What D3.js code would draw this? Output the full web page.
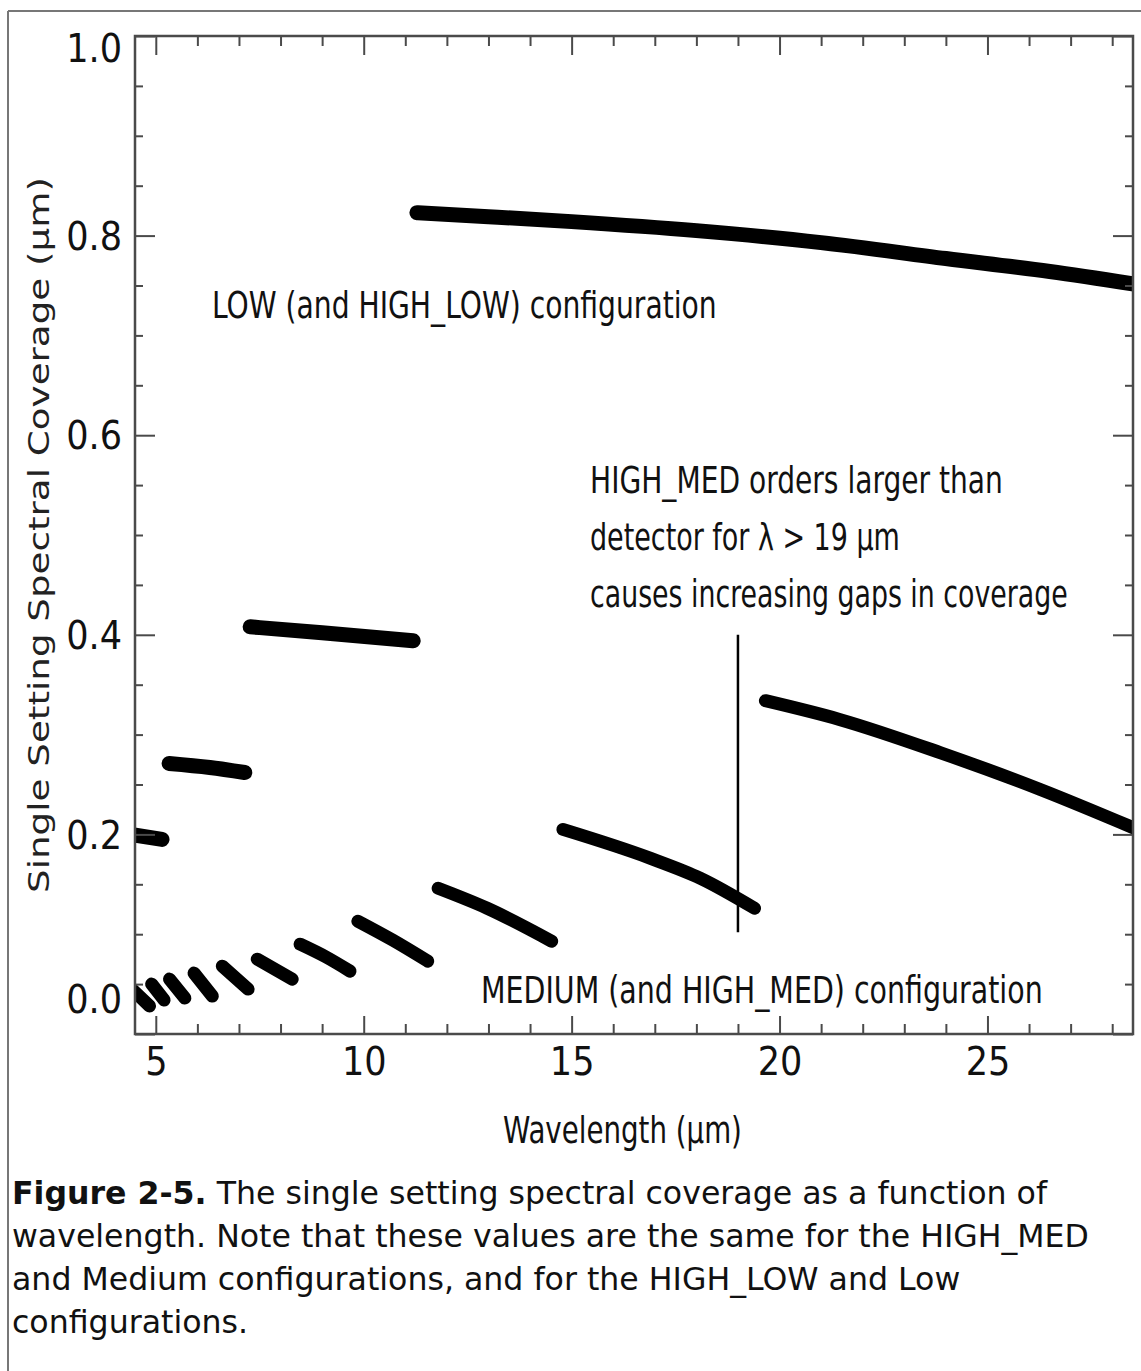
<!DOCTYPE html>
<html>
<head>
<meta charset="utf-8">
<script src="https://cdn.jsdelivr.net/npm/d3@7"></script>
<style>
  html, body { margin: 0; padding: 0; background: #fff; }
  svg { display: block; }
</style>
</head>
<body>
<svg id="chart" width="1141" height="1371"></svg>
<script>
// ---------------- DATA ----------------
// LOW (and HIGH_LOW) configuration: [wavelength µm, coverage µm]
const lowOrder1 = [[4.40, 0.200], [5.15, 0.195]];
const lowOrder2 = [[5.32, 0.271], [6.3, 0.267], [7.14, 0.262]];
const lowOrder3 = [[7.27, 0.408], [9.0, 0.402], [11.19, 0.394]];
const lowOrder4 = [[11.28, 0.823], [13.0, 0.819], [15.0, 0.814], [18.0, 0.805], [21.0, 0.793], [24.0, 0.777], [26.5, 0.764], [28.6, 0.751]];
const lowSegments = [lowOrder1, lowOrder2, lowOrder3, lowOrder4];

// MEDIUM (and HIGH_MED) configuration
const medOrder1  = [[4.40, 0.046], [4.85, 0.028]];
const medOrder2  = [[4.90, 0.050], [5.20, 0.034]];
const medOrder3  = [[5.33, 0.055], [5.70, 0.036]];
const medOrder4  = [[5.92, 0.061], [6.36, 0.038]];
const medOrder5  = [[6.60, 0.068], [7.22, 0.045]];
const medOrder6  = [[7.44, 0.075], [8.28, 0.055]];
const medOrder7  = [[8.47, 0.090], [9.10, 0.077], [9.67, 0.063]];
const medOrder8  = [[9.86, 0.113], [10.7, 0.094], [11.54, 0.073]];
const medOrder9  = [[11.79, 0.146], [12.97, 0.126], [14.52, 0.093]];
const medOrder10 = [[14.79, 0.205], [16.9, 0.176], [18.1, 0.156], [19.40, 0.126]];
const medOrder11 = [[19.66, 0.334], [21.46, 0.315], [23.86, 0.282], [26.27, 0.245], [28.6, 0.205]];
const medSegments = [medOrder1, medOrder2, medOrder3, medOrder4, medOrder5, medOrder6,
                     medOrder7, medOrder8, medOrder9, medOrder10, medOrder11];

// annotation marker (λ = 19 µm)
const markerLine = [[19.0, 0.102], [19.0, 0.400]];

// axes
const xDomain = [4.5, 28.5];
const yDomain = [0, 1];
const xMajorTicks = [5, 10, 15, 20, 25];
const xMinorTicks = [6, 7, 8, 9, 11, 12, 13, 14, 16, 17, 18, 19, 21, 22, 23, 24, 26, 27, 28];
const yMajorTicks = [0.0, 0.2, 0.4, 0.6, 0.8, 1.0];
const yMinorTicks = [0.05, 0.1, 0.15, 0.25, 0.3, 0.35, 0.45, 0.5, 0.55, 0.65, 0.7, 0.75, 0.85, 0.9, 0.95];

// texts
const xTitle = "Wavelength (µm)";
const yTitle = "Single Setting Spectral Coverage (µm)";
const lowLabel = "LOW (and HIGH_LOW) configuration";
const medLabel = "MEDIUM (and HIGH_MED) configuration";
const noteLines = ["HIGH_MED orders larger than", "detector for λ > 19 µm", "causes increasing gaps in coverage"];
const captionBold = "Figure 2-5.";
const captionLines = [
  " The single setting spectral coverage as a function of",
  "wavelength. Note that these values are the same for the HIGH_MED",
  "and Medium configurations, and for the HIGH_LOW and Low",
  "configurations."
];

// ---------------- DRAW ----------------
const svg = d3.select("#chart");
const narrow = "'Liberation Sans Narrow', 'Arial Narrow', 'DejaVu Sans Condensed', sans-serif";
const axisCol = "#4a4a4a";

// page frame (top + left grey rule)
svg.append("line").attr("x1", 8).attr("x2", 1141).attr("y1", 11).attr("y2", 11)
  .attr("stroke", "#777").attr("stroke-width", 2);
svg.append("line").attr("x1", 8).attr("x2", 8).attr("y1", 11).attr("y2", 1371)
  .attr("stroke", "#777").attr("stroke-width", 2);

const L = 135, R = 1133, T = 36, B = 1034;
const x = d3.scaleLinear().domain(xDomain).range([L, R]);
const y = d3.scaleLinear().domain(yDomain).range([B, T]);

svg.append("defs").append("clipPath").attr("id", "plotclip")
  .append("rect").attr("x", L).attr("y", T).attr("width", R - L).attr("height", B - T);

const line = d3.line().x(d => x(d[0])).y(d => y(d[1])).curve(d3.curveMonotoneX);

const plot = svg.append("g").attr("clip-path", "url(#plotclip)");

plot.selectAll("path.low").data(lowSegments).join("path")
  .attr("class", "low")
  .attr("d", line)
  .attr("fill", "none").attr("stroke", "#000")
  .attr("stroke-width", 15).attr("stroke-linecap", "round").attr("stroke-linejoin", "round");

plot.selectAll("path.med").data(medSegments).join("path")
  .attr("class", "med")
  .attr("d", line)
  .attr("fill", "none").attr("stroke", "#000")
  .attr("stroke-width", 13).attr("stroke-linecap", "round").attr("stroke-linejoin", "round");

svg.append("path").datum(markerLine)
  .attr("d", d3.line().x(d => x(d[0])).y(d => y(d[1])))
  .attr("stroke", "#000").attr("stroke-width", 2.5).attr("fill", "none");

// axes
function styleAxis(g) {
  g.select(".domain").remove();
  g.selectAll(".tick line").attr("stroke", axisCol).attr("stroke-width", 2);
  g.selectAll(".tick text").attr("fill", "#111").style("font-family", narrow).style("font-size", "39px");
}

// bottom
svg.append("g").attr("transform", `translate(0,${B})`)
  .call(d3.axisBottom(x).tickValues(xMajorTicks).tickSize(-18).tickPadding(13).tickFormat(d3.format("d")))
  .call(styleAxis);
svg.append("g").attr("transform", `translate(0,${B})`)
  .call(d3.axisBottom(x).tickValues(xMinorTicks).tickSize(-10).tickFormat(""))
  .call(styleAxis);
// top
svg.append("g").attr("transform", `translate(0,${T})`)
  .call(d3.axisTop(x).tickValues(xMajorTicks).tickSize(-19).tickFormat(""))
  .call(styleAxis);
svg.append("g").attr("transform", `translate(0,${T})`)
  .call(d3.axisTop(x).tickValues(xMinorTicks).tickSize(-10).tickFormat(""))
  .call(styleAxis);
// left
const gy = svg.append("g").attr("transform", `translate(${L},0)`)
  .call(d3.axisLeft(y).tickValues(yMajorTicks).tickSize(-20).tickPadding(13).tickFormat(d3.format(".1f")))
  .call(styleAxis);
gy.selectAll(".tick text").attr("dy", d => d === 1 ? "0.66em" : d === 0 ? "-0.55em" : "0.35em");
svg.append("g").attr("transform", `translate(${L},0)`)
  .call(d3.axisLeft(y).tickValues(yMinorTicks).tickSize(-8).tickFormat(""))
  .call(styleAxis);
// right
svg.append("g").attr("transform", `translate(${R},0)`)
  .call(d3.axisRight(y).tickValues(yMajorTicks).tickSize(-20).tickFormat(""))
  .call(styleAxis);
svg.append("g").attr("transform", `translate(${R},0)`)
  .call(d3.axisRight(y).tickValues(yMinorTicks).tickSize(-8).tickFormat(""))
  .call(styleAxis);

// frame
svg.append("rect").attr("x", L).attr("y", T).attr("width", R - L).attr("height", B - T)
  .attr("fill", "none").attr("stroke", axisCol).attr("stroke-width", 2.5);

// labels: tall narrow lettering — keep the size, squeeze horizontally to the reference width
function label(txt, x0, yc, w, size) {
  const g = svg.append("g");
  const t = g.append("text").attr("x", 0).attr("y", 0).attr("dy", "0.35em")
    .style("font-family", narrow).style("font-size", size + "px").attr("fill", "#111")
    .text(txt);
  const nat = t.node().getComputedTextLength();
  const sx = nat > 0 ? w / nat : 1;
  g.attr("transform", `translate(${x0},${yc}) scale(${sx.toFixed(4)},1)`);
  return g;
}
label(lowLabel, 212, 305, 505, 37);
label(medLabel, 481, 990, 562, 37);
label(noteLines[0], 590, 480, 413, 37);
label(noteLines[1], 590, 537, 310, 37);
label(noteLines[2], 590, 594, 478, 37);
label(xTitle, 503, 1130, 239, 37);

svg.append("text")
  .attr("transform", `translate(39,535) rotate(-90)`)
  .attr("text-anchor", "middle").attr("dy", "0.35em")
  .style("font-family", "'DejaVu Sans', Verdana, sans-serif").style("font-size", "28px")
  .attr("fill", "#222")
  .attr("textLength", 716).attr("lengthAdjust", "spacingAndGlyphs")
  .text(yTitle);

// caption
const capBase = [1204, 1247, 1290, 1333];
captionLines.forEach((ln, i) => {
  const t = svg.append("text").attr("x", 12).attr("y", capBase[i])
    .style("font-family", "'DejaVu Sans', Verdana, sans-serif").style("font-size", "31.6px")
    .attr("fill", "#111");
  if (i === 0) t.append("tspan").attr("font-weight", "bold").text(captionBold);
  t.append("tspan").text(ln);
});
</script>
</body>
</html>
